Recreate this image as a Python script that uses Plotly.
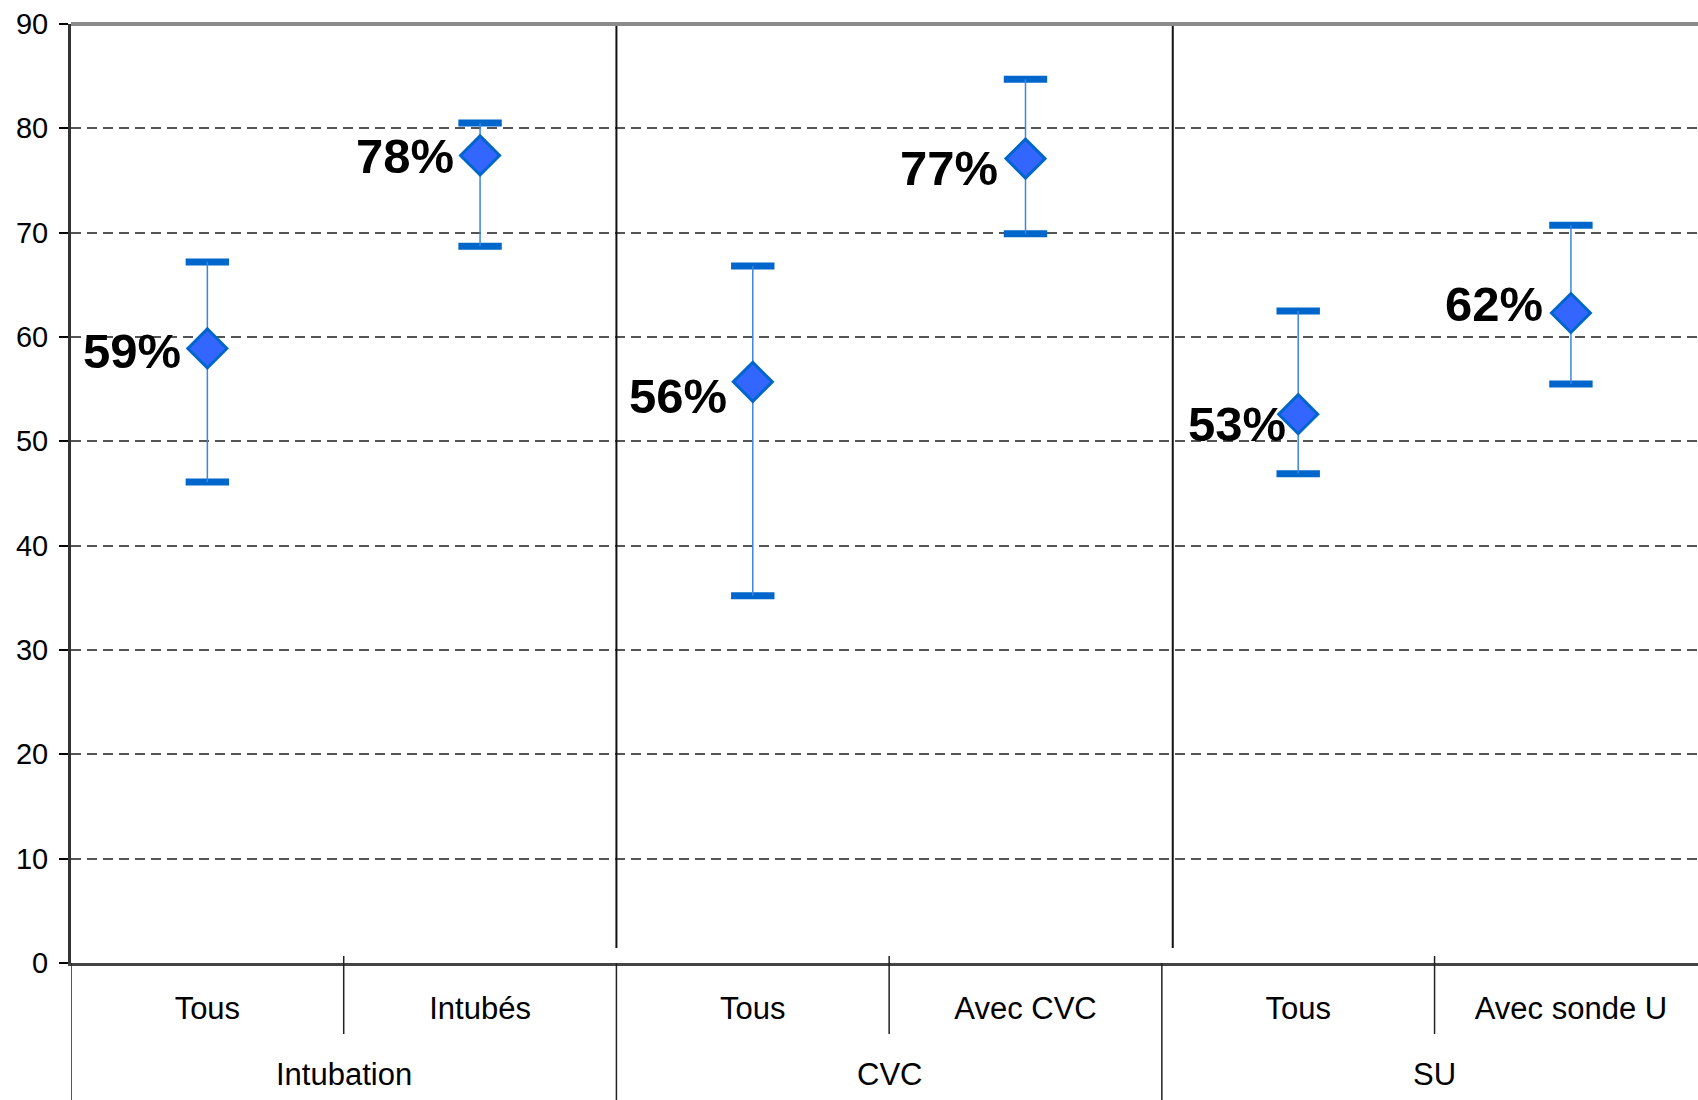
import plotly.graph_objects as go

# ---- data ----
groups = ["Intubation", "Intubation", "CVC", "CVC", "SU", "SU"]
subcats = ["Tous", "Intubés", "Tous", "Avec CVC", "Tous", "Avec sonde U"]
estimate = [58.9, 77.4, 55.7, 77.1, 52.6, 62.3]
lower = [46.1, 68.7, 35.2, 69.9, 46.9, 55.5]
upper = [67.2, 80.5, 66.8, 84.7, 62.5, 70.7]
value_labels = ["59%", "78%", "56%", "77%", "53%", "62%"]
y_ticks = [0, 10, 20, 30, 40, 50, 60, 70, 80, 90]

# ---- styling ----
label_dx = [-24, -24, -24, -25, -10, -26]   # px shift of label right edge from marker centre
label_dy = [-3, -1, -14, -9, -10, 9]        # px vertical shift (positive = up)
sep_offset = [0.0, 0.04]                    # small drift of inner separators (axis units)
FONT = "Liberation Sans, Arial, sans-serif"

x = list(range(len(subcats)))
err_plus = [u - e for u, e in zip(upper, estimate)]
err_minus = [e - l for e, l in zip(estimate, lower)]

fig = go.Figure()

# caps of the confidence intervals
fig.add_trace(go.Scatter(
    x=x + x, y=upper + lower, mode="markers",
    marker=dict(symbol="line-ew", size=31, line=dict(width=7, color="#0066CC")),
    hoverinfo="skip", showlegend=False))

# estimates with stems
fig.add_trace(go.Scatter(
    x=x, y=estimate, mode="markers",
    marker=dict(symbol="diamond", size=30, color="#3366FF",
                line=dict(width=3, color="#0066CC")),
    error_y=dict(type="data", symmetric=False, array=err_plus, arrayminus=err_minus,
                 width=0, thickness=1.5, color="#3A86E0"),
    showlegend=False))

# value labels
for xi, yi, t, dx, dy in zip(x, estimate, value_labels, label_dx, label_dy):
    fig.add_annotation(x=xi, y=yi, xref="x", yref="y", text=t, showarrow=False,
                       xanchor="right", yanchor="middle", xshift=dx, yshift=dy,
                       font=dict(family=FONT, size=49, color="black", weight="bold"))

# boundaries between categories
n = len(subcats)
group_bounds = [-0.5] + [i - 0.5 for i in range(1, n) if groups[i] != groups[i - 1]] + [n - 0.5]
sub_bounds = [i - 0.5 for i in range(1, n) if groups[i] == groups[i - 1]]

for b in group_bounds:
    fig.add_shape(type="line", xref="x", yref="paper", x0=b, x1=b, y0=0, y1=-0.146,
                  line=dict(color="#222", width=1.5))
for b, off in zip(group_bounds[1:-1], sep_offset):
    fig.add_shape(type="line", xref="x", yref="paper", x0=b + off, x1=b + off,
                  y0=0.016, y1=1, line=dict(color="#111", width=2))
for b in sub_bounds:
    fig.add_shape(type="line", xref="x", yref="paper", x0=b, x1=b, y0=0.0075, y1=-0.0756,
                  line=dict(color="#222", width=1.5))

# top border and left-axis shadow
fig.add_shape(type="line", xref="paper", yref="paper", x0=0, x1=1, y0=1, y1=1,
              line=dict(color="#8a8a8a", width=4))

# group labels
uniq = []
for g in groups:
    if g not in uniq:
        uniq.append(g)
for g in uniq:
    idx = [i for i, gg in enumerate(groups) if gg == g]
    fig.add_annotation(x=sum(idx) / len(idx), y=-0.119, xref="x", yref="paper", text=g,
                       showarrow=False, xanchor="center", yanchor="middle",
                       font=dict(family=FONT, size=31, color="black"))

fig.update_layout(
    width=1698, height=1100, autosize=False,
    margin=dict(l=71, r=0, t=24, b=137),
    plot_bgcolor="white", paper_bgcolor="white",
    font=dict(family=FONT, color="black"),
    xaxis=dict(range=[-0.5, 5.466], tickvals=x, ticktext=subcats, ticks="",
               showgrid=False, zeroline=False, showline=True, linecolor="#444",
               linewidth=3, tickfont=dict(size=31, color="black"),
               ticklabelstandoff=16, automargin=False, fixedrange=True),
    yaxis=dict(range=[0, 90], tickvals=y_ticks, ticks="outside", ticklen=9,
               tickwidth=1.5, tickcolor="black", showline=True, linecolor="#333",
               linewidth=3, showgrid=True, gridcolor="#555", gridwidth=1.5,
               griddash="10px,6px", zeroline=False,
               tickfont=dict(size=29, color="black"), ticklabelstandoff=5,
               automargin=False, fixedrange=True),
)

fig.write_html("out.html", config={"displayModeBar": False},
               post_script="document.body.style.margin='0';document.body.style.overflow='hidden';")
